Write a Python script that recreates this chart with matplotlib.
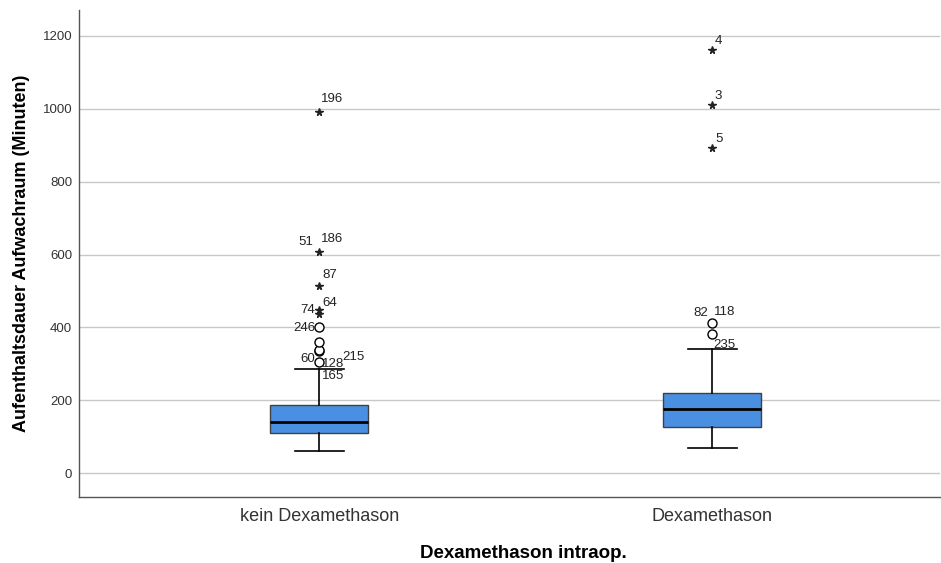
import numpy as np
import matplotlib
matplotlib.use('Agg')
import matplotlib.pyplot as plt

plt.rcParams['font.family'] = ['Liberation Sans', 'DejaVu Sans']

# Gruppen und Box-Statistiken
groups = ['kein Dexamethason', 'Dexamethason']
q1 = [110, 127]
median = [139, 175]
q3 = [187, 221]
whisk_lo = [61, 70]
whisk_hi = [285, 342]

# Ausreisser (Kreise) und Extremwerte (Sterne)
outliers = [[306, 336, 339, 359, 400], [381, 411]]
extremes = [[436, 447, 515, 606, 991], [893, 1010, 1161]]

# Beschriftungen: (Gruppe, Wert, Text)
point_labels = [
    (0, 991, '196'), (0, 606, '186'), (0, 606, '51'), (0, 515, '87'),
    (0, 447, '64'), (0, 436, '74'), (0, 400, '246'), (0, 339, '60'),
    (0, 336, '128'), (0, 339, '215'), (0, 306, '165'),
    (1, 1161, '4'), (1, 1010, '3'), (1, 893, '5'),
    (1, 411, '82'), (1, 411, '118'), (1, 381, '235'),
]
# Versatz in Punkten pro Beschriftung (dx, dy, ha)
label_offsets = [
    (1, 5, 'left'), (1, 5, 'left'), (-4, 3, 'right'), (2, 3, 'left'),
    (2, 1, 'left'), (-3, -1, 'right'), (-3, -5, 'right'), (-3, -11, 'right'),
    (2, -14, 'left'), (17, -10, 'left'), (2, -15, 'left'),
    (2, 2, 'left'), (2, 2, 'left'), (2, 2, 'left'),
    (-3, 3, 'right'), (1, 4, 'left'), (1, -12, 'left'),
]

fig = plt.figure(figsize=(9.41, 5.63), dpi=100)
ax = fig.add_axes([0.084, 0.117, 0.915, 0.865])

stats = []
for i in range(len(groups)):
    stats.append(dict(q1=q1[i], med=median[i], q3=q3[i],
                      whislo=whisk_lo[i], whishi=whisk_hi[i], fliers=[]))

positions = [1, 2]
ax.bxp(stats, positions=positions, widths=0.25, patch_artist=True,
       showfliers=False,
       boxprops=dict(facecolor='#4A90E2', edgecolor='#404040', linewidth=1.0),
       medianprops=dict(color='black', linewidth=2.0),
       whiskerprops=dict(color='black', linewidth=1.2),
       capprops=dict(color='black', linewidth=1.2),
       capwidths=0.125, zorder=3)

for i, pos in enumerate(positions):
    ax.plot([pos] * len(outliers[i]), outliers[i], 'o', mfc='white',
            mec='black', ms=6.5, mew=1.0, zorder=4)
    ax.plot([pos] * len(extremes[i]), extremes[i], '*', color='#222222',
            ms=5.5, zorder=4)

for (g, v, t), (dx, dy, ha) in zip(point_labels, label_offsets):
    ax.annotate(t, (positions[g], v), xytext=(dx, dy),
                textcoords='offset points', ha=ha, va='bottom',
                fontsize=9.5, color='#222222', zorder=5)

ax.set_xlim(0.389, 2.58)
ax.set_ylim(-66, 1271)
ax.set_yticks([0, 200, 400, 600, 800, 1000, 1200])
ax.set_xticks(positions)
ax.set_xticklabels(groups, fontsize=13, color='#333333')
ax.tick_params(axis='y', labelsize=9.5, length=0, pad=5, colors='#333333')
ax.tick_params(axis='x', length=0, pad=8)
ax.yaxis.grid(True, color='#C8C8C8', linewidth=1.0, zorder=0)
ax.set_axisbelow(True)

for s in ['top', 'right']:
    ax.spines[s].set_visible(False)
for s in ['left', 'bottom']:
    ax.spines[s].set_color('#555555')
    ax.spines[s].set_linewidth(1.0)

ax.set_ylabel('Aufenthaltsdauer Aufwachraum (Minuten)', fontsize=13,
              fontweight='bold', labelpad=9)
ax.set_xlabel('Dexamethason intraop.', fontsize=13.5, fontweight='bold',
              labelpad=14)
ax.xaxis.label.set_x(0.516)

fig.savefig('out.png', dpi=100)
